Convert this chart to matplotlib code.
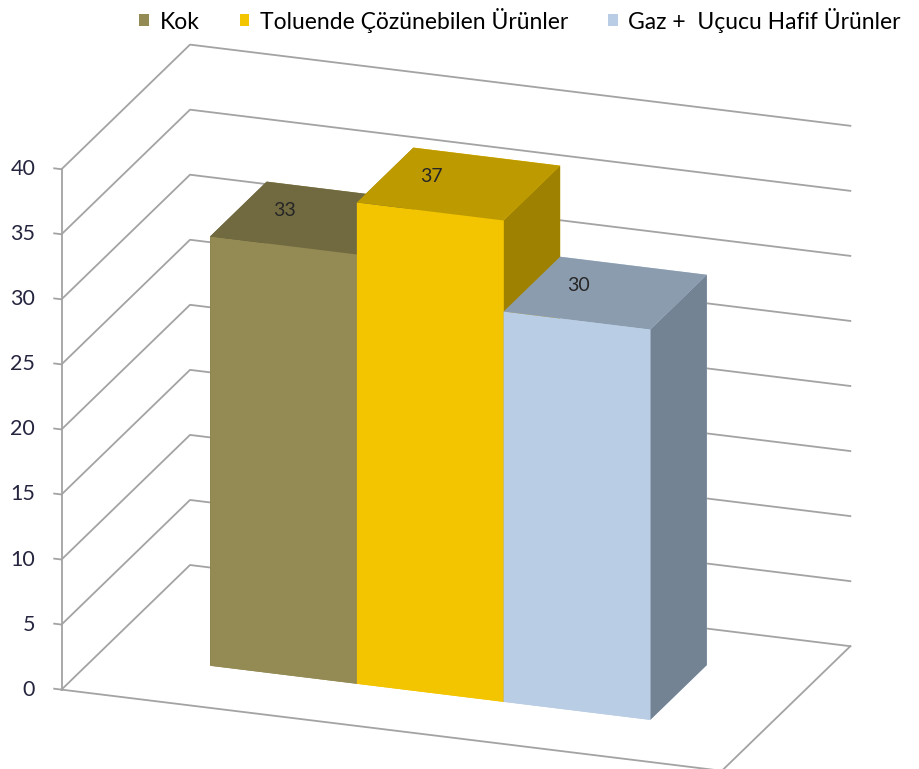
import numpy as np
import matplotlib
matplotlib.use('Agg')
import matplotlib.pyplot as plt
from matplotlib.patches import Patch
from mpl_toolkits.mplot3d import proj3d

# data
categories = ['Kok', 'Toluende Çözünebilen Ürünler', 'Gaz +  Uçucu Hafif Ürünler']
values = [33, 37, 30]
z_ticks = [0, 5, 10, 15, 20, 25, 30, 35, 40]

# face colours: front, top, side
front_colors = ['#948A54', '#F2C500', '#B9CDE5']
top_colors = ['#716A40', '#BD9A00', '#8C9CAF']
side_colors = ['#5E5836', '#9E8100', '#748394']

plt.rcParams['font.family'] = ['Lato', 'DejaVu Sans']

fig = plt.figure(figsize=(9.19, 7.69), dpi=100)
ax = fig.add_axes([-0.0152, -0.0437, 1, 1], projection='3d')
ax.set_proj_type('ortho')
ax.view_init(elev=20.2, azim=-70.4)
xmax = len(values) + 1.5
ax.set_xlim(0, xmax)
ax.set_ylim(0, 1)
ax.set_zlim(0, 40)
ax.set_box_aspect((699, 382, 553), zoom=1.2275)
ax.set_axis_off()

grid = '#A3A3A3'
# side and back wall gridlines
for t in z_ticks:
    ax.plot([0, 0, xmax], [0, 1, 1], [t, t, t], color=grid, lw=1.3, clip_on=False)
    ax.plot([-0.05, 0], [0, 0], [t, t], color=grid, lw=1.3, clip_on=False)
ax.plot([0, 0], [0, 0], [0, 40], color=grid, lw=1.3, clip_on=False)
# floor
ax.plot([0, xmax, xmax], [0, 0, 1], [0, 0, 0], color=grid, lw=1.3, clip_on=False)

# bars
xpos = np.arange(len(values)) + 0.75
y0, depth = 0.3, 0.44
face_cols = []
for f, t, s in zip(front_colors, top_colors, side_colors):
    # -z, +z, -y, +y, -x, +x
    face_cols += [f, t, f, f, s, s]
bars = ax.bar3d(xpos, [y0] * len(values), [0] * len(values), 1, depth, values,
                color=face_cols, shade=False, linewidth=0)
bars.set_clip_on(False)

# texts placed at projected 3d positions
fig.canvas.draw()
M = ax.get_proj()


def proj(x, y, z):
    xs, ys, _ = proj3d.proj_transform(x, y, z, M)
    return xs, ys


for t in z_ticks:
    ax.annotate(str(t), xy=proj(0, 0, t), xytext=(-19, 0), textcoords='offset points',
                ha='right', va='center', fontsize=15.5, color='#25253F')

for x, v in zip(xpos, values):
    ax.annotate(str(v), xy=proj(x + 0.29, y0 + 0.25, v), ha='center', va='center',
                fontsize=14, color='#262626', zorder=100)

handles = [Patch(facecolor=c, edgecolor='none') for c in front_colors]
fig.legend(handles, categories, loc='upper center', bbox_to_anchor=(0.566, 1.008),
           ncol=3, frameon=False, fontsize=16.5, handlelength=0.43, handleheight=0.43,
           handletextpad=0.45, columnspacing=1.75, borderaxespad=0.2)

fig.savefig('out.png', dpi=100)
